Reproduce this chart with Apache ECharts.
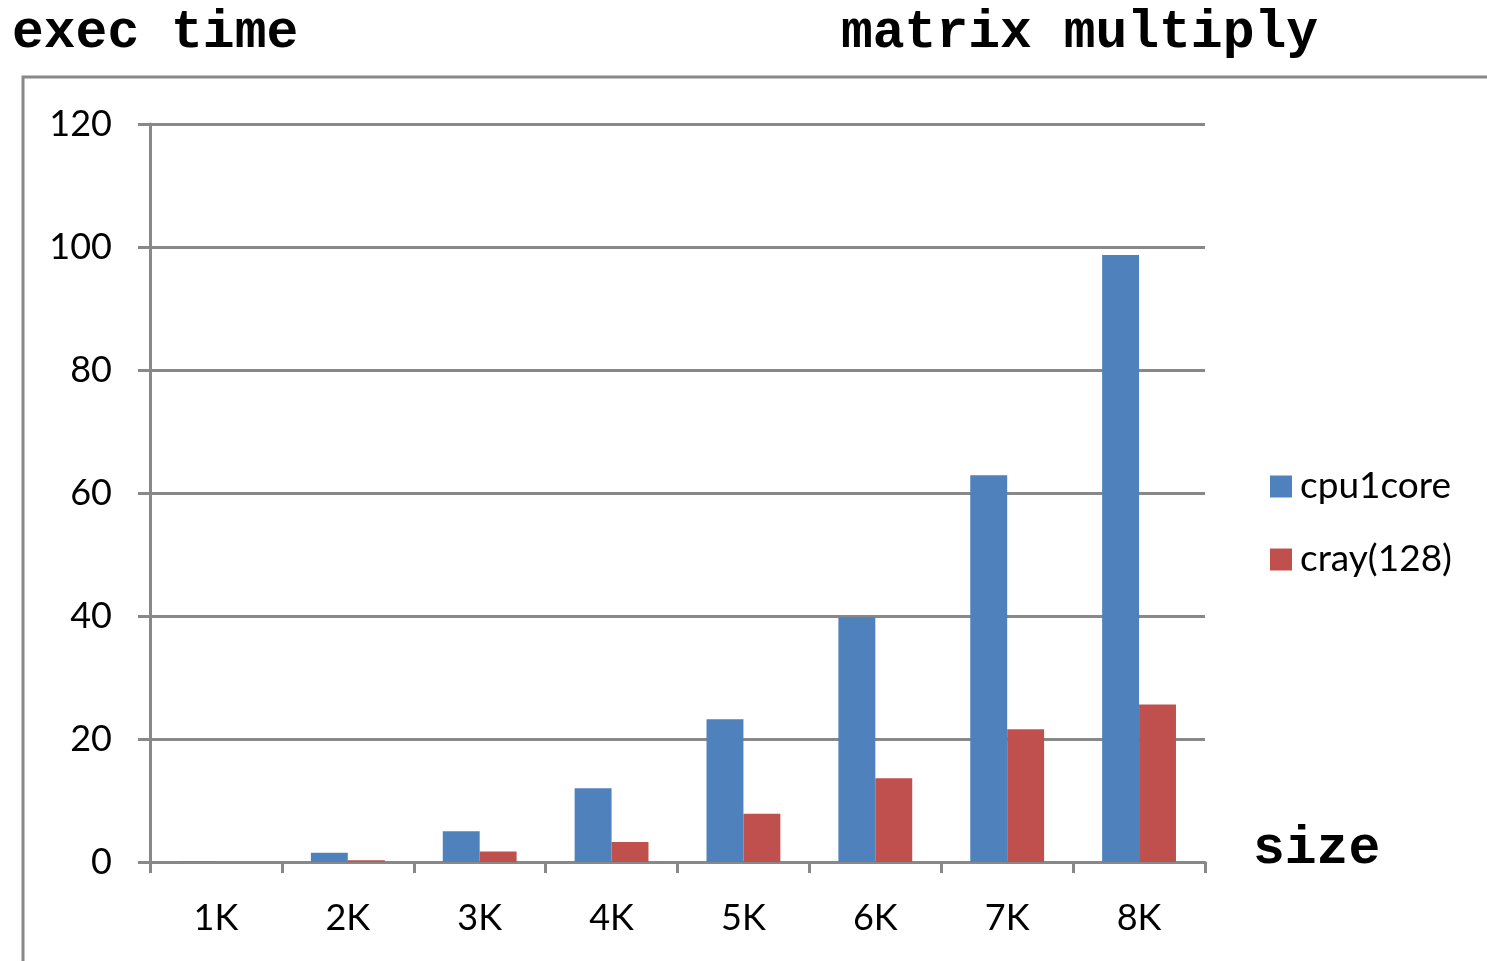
<!DOCTYPE html>
<html>
<head>
<meta charset="utf-8">
<script src="https://cdn.jsdelivr.net/npm/echarts@6/dist/echarts.min.js"></script>
<style>
  html, body { margin: 0; padding: 0; background: #fff; }
  #chart { width: 1487px; height: 961px; }
</style>
</head>
<body>
<div id="chart"></div>
<script>
// Matrix multiply execution time by matrix size
const sizes = ['1K', '2K', '3K', '4K', '5K', '6K', '7K', '8K'];
const cpu1core = [0.05, 1.5, 5.0, 12.0, 23.2, 39.8, 62.9, 98.7];
const cray128 = [0.02, 0.3, 1.7, 3.25, 7.85, 13.6, 21.6, 25.6];
const yTicks = { min: 0, max: 120, interval: 20 };

const gray = '#888888';
const labelFont = 'Lato, "Open Sans", sans-serif';
const monoFont = '"Liberation Mono", "DejaVu Sans Mono", monospace';

const chart = echarts.init(document.getElementById('chart'));
chart.setOption({
  animation: false,
  backgroundColor: '#ffffff',
  title: [
    { text: 'exec time', left: 7, top: 2,
      textStyle: { fontFamily: monoFont, fontWeight: 'bold', fontSize: 53, color: '#000' } },
    { text: 'matrix multiply', left: 836, top: 2,
      textStyle: { fontFamily: monoFont, fontWeight: 'bold', fontSize: 53, color: '#000' } },
    { text: 'size', left: 1248, top: 818,
      textStyle: { fontFamily: monoFont, fontWeight: 'bold', fontSize: 53, color: '#000' } }
  ],
  graphic: [
    { type: 'polyline', silent: true,
      shape: { points: [[23, 961], [23, 77], [1487, 77]] },
      style: { stroke: gray, lineWidth: 3, fill: null } }
  ],
  legend: {
    orient: 'vertical',
    left: 1265, top: 463,
    itemWidth: 22, itemHeight: 22, itemGap: 36,
    icon: 'rect',
    textStyle: { fontFamily: labelFont, fontSize: 37, color: '#000', padding: [0, 0, 0, 3] },
    data: ['cpu1core', 'cray(128)']
  },
  grid: { left: 150, right: 282, top: 124, bottom: 99, containLabel: false },
  xAxis: {
    type: 'category',
    data: sizes,
    axisLine: { show: true, lineStyle: { color: gray, width: 3 } },
    axisTick: { show: true, alignWithLabel: false, length: 11, lineStyle: { color: gray, width: 3 } },
    axisLabel: { fontFamily: labelFont, fontSize: 36, color: '#000', margin: 38 },
    splitLine: { show: false }
  },
  yAxis: {
    type: 'value',
    min: yTicks.min, max: yTicks.max, interval: yTicks.interval,
    axisLine: { show: true, lineStyle: { color: gray, width: 3 } },
    axisTick: { show: true, length: 12, lineStyle: { color: gray, width: 3 } },
    axisLabel: { fontFamily: labelFont, fontSize: 36, color: '#000', margin: 38 },
    splitLine: { show: true, lineStyle: { color: gray, width: 3 } }
  },
  series: [
    { name: 'cpu1core', type: 'bar', data: cpu1core,
      barGap: '0%', barCategoryGap: '44%',
      itemStyle: { color: '#4F81BD' } },
    { name: 'cray(128)', type: 'bar', data: cray128,
      barGap: '0%', barCategoryGap: '44%',
      itemStyle: { color: '#C0504D' } }
  ]
});
</script>
</body>
</html>
